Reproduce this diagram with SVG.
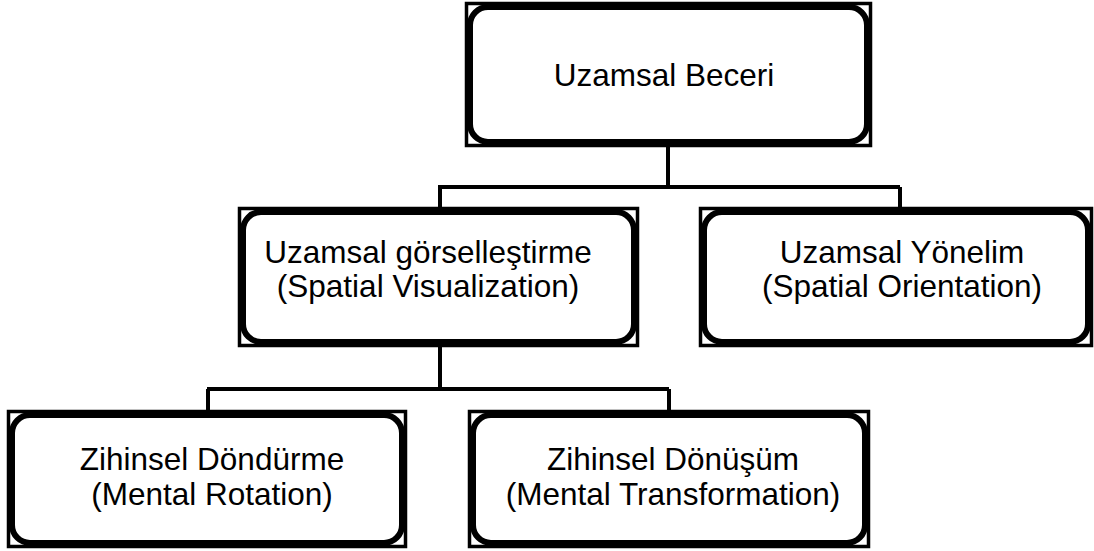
<svg xmlns="http://www.w3.org/2000/svg" width="1094" height="551" viewBox="0 0 1094 551">
<style>
.frame{fill:#fff;stroke:#000;stroke-width:3.5}
.inner{fill:#fff;stroke:#000;stroke-width:6}
.t{font-family:"Liberation Sans",Arial,sans-serif;font-size:31.5px;fill:#000;text-anchor:middle}
.c{fill:none;stroke:#000;stroke-width:4}
</style>
<rect width="1094" height="551" fill="#fff"/>
<g id="connectors">
<path class="c" d="M668 147 V187 M438 187 H900 M440 187 V208 M900 187 V208"/>
<path class="c" d="M440 347 V389 M207 389 H669 M208 389 V411 M669 389 V411"/>
</g>
<g id="n-root">
<rect class="frame" x="466.5" y="3.5" width="404" height="142"/>
<rect class="inner" x="470" y="7" width="397" height="135" rx="18"/>
<text class="t" x="664" y="86">Uzamsal Beceri</text>
</g>
<g id="n-vis">
<rect class="frame" x="239.5" y="208.5" width="398" height="137"/>
<rect class="inner" x="243" y="212" width="391" height="130" rx="18"/>
<text class="t" x="428" y="263">Uzamsal görselleştirme</text>
<text class="t" x="428" y="297">(Spatial Visualization)</text>
</g>
<g id="n-ori">
<rect class="frame" x="700.5" y="208.5" width="391" height="137"/>
<rect class="inner" x="704" y="212" width="384" height="130" rx="18"/>
<text class="t" x="902" y="263">Uzamsal Yönelim</text>
<text class="t" x="902" y="297">(Spatial Orientation)</text>
</g>
<g id="n-rot">
<rect class="frame" x="8.5" y="411.5" width="397" height="135"/>
<rect class="inner" x="12" y="415" width="390" height="128" rx="18"/>
<text class="t" x="212" y="470">Zihinsel Döndürme</text>
<text class="t" x="212" y="505">(Mental Rotation)</text>
</g>
<g id="n-trans">
<rect class="frame" x="469.5" y="411.5" width="399" height="135"/>
<rect class="inner" x="473" y="415" width="392" height="128" rx="18"/>
<text class="t" x="673" y="470">Zihinsel Dönüşüm</text>
<text class="t" x="673" y="505">(Mental Transformation)</text>
</g>
</svg>
